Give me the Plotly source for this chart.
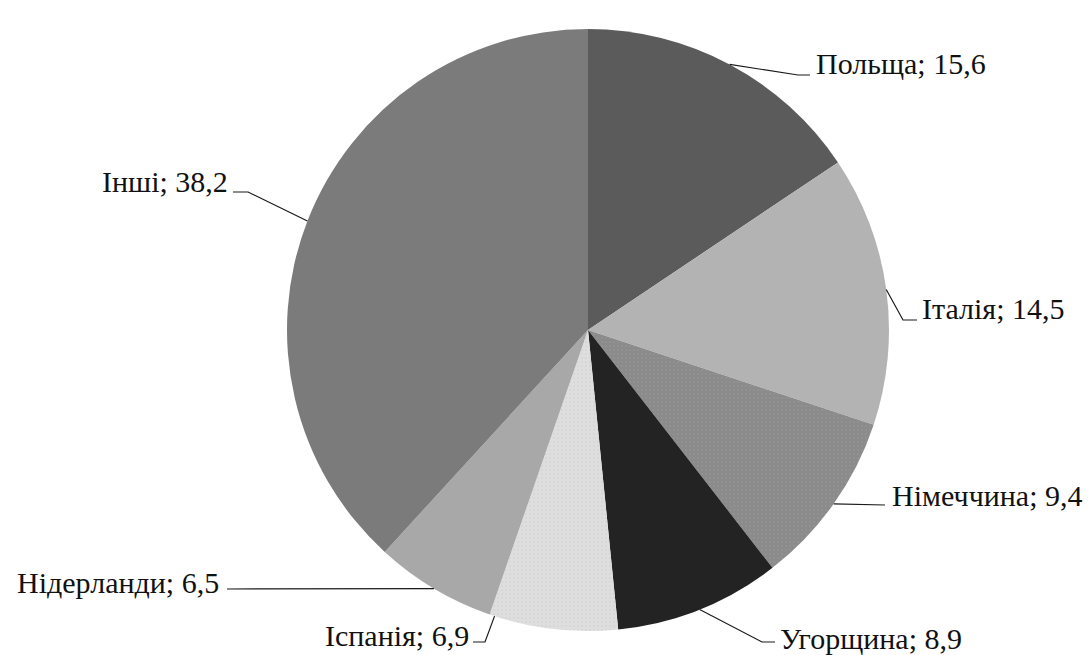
import math
import plotly.graph_objects as go

# ---- data ----
countries = ["Польща", "Італія", "Німеччина", "Угорщина", "Іспанія", "Нідерланди", "Інші"]
shares = [15.6, 14.5, 9.4, 8.9, 6.9, 6.5, 38.2]
share_labels = ["15,6", "14,5", "9,4", "8,9", "6,9", "6,5", "38,2"]

# ---- style ----
colors = ["#5b5b5b", "#b3b3b3", "#8b8b8b", "#232323", "#dedede", "#a8a8a8", "#7b7b7b"]
pattern_shapes = ["", "", ".", "", ".", "", ""]
pattern_fg = ["#5b5b5b", "#b3b3b3", "#999999", "#232323", "#cdcdcd", "#a8a8a8", "#7b7b7b"]

W, H = 1090, 655
CX, CY, R = 588, 330, 301          # pie centre / radius in pixels
FONT = "Liberation Serif, Times New Roman, serif"
FSIZE = 30

# label layout (pixels): bend point, end of horizontal tick, text anchor x, text centre y, side
label_layout = [
    dict(bend=(798, 75),  end=(810, 75),  tx=814, ty=64,  side="left",  frac=0.5),
    dict(bend=(903, 320), end=(917, 320), tx=920, ty=308, side="left",  frac=0.5),
    dict(bend=(885, 505), end=(885, 505), tx=890, ty=495, side="left",  frac=0.5),
    dict(bend=(762, 642), end=(775, 642), tx=778, ty=638, side="left",  frac=0.5),
    dict(bend=(485, 642), end=(473, 642), tx=471, ty=635, side="right", frac=0.96),
    dict(bend=(227, 589), end=(227, 589), tx=221, ty=582, side="right", frac=0.5),
    dict(bend=(248, 192), end=(233, 192), tx=230, ty=181, side="right", frac=0.5),
]


def px(x):
    return x / W


def py(y):
    return 1 - y / H


fig = go.Figure(
    go.Pie(
        labels=countries,
        values=shares,
        sort=False,
        direction="clockwise",
        rotation=0,
        textinfo="none",
        hoverinfo="label+value",
        marker=dict(
            colors=colors,
            line=dict(width=0),
            pattern=dict(shape=pattern_shapes, fgcolor=pattern_fg, bgcolor=colors,
                         fillmode="overlay", size=4, solidity=0.2),
        ),
        showlegend=False,
        domain=dict(x=[px(CX - R), px(CX + R)], y=[py(CY + R), py(CY - R)]),
    )
)

total = sum(shares)
cum = 0.0
annotations = []
shapes = []
for name, val, lab, lay in zip(countries, shares, share_labels, label_layout):
    ang = (cum + val * lay["frac"]) / total * 2 * math.pi
    cum += val
    sx = CX + R * math.sin(ang)
    sy = CY - R * math.cos(ang)
    bx, by = lay["bend"]
    ex, ey = lay["end"]
    path = f"M {px(sx)} {py(sy)} L {px(bx)} {py(by)} L {px(ex)} {py(ey)}"
    shapes.append(dict(type="path", path=path, xref="paper", yref="paper",
                       line=dict(color="#1a1a1a", width=1.2)))
    annotations.append(dict(
        text=f"{name}; {lab}", x=px(lay["tx"]), y=py(lay["ty"]),
        xref="paper", yref="paper", showarrow=False,
        xanchor=lay["side"], yanchor="middle",
        font=dict(family=FONT, size=FSIZE, color="#111111"),
    ))

fig.update_layout(
    width=W, height=H,
    margin=dict(l=0, r=0, t=0, b=0),
    paper_bgcolor="white", plot_bgcolor="white",
    annotations=annotations, shapes=shapes,
)

fig.write_html(
    "out.html",
    config={"displayModeBar": False},
    post_script="document.body.style.margin='0';document.body.style.overflow='hidden';",
)
